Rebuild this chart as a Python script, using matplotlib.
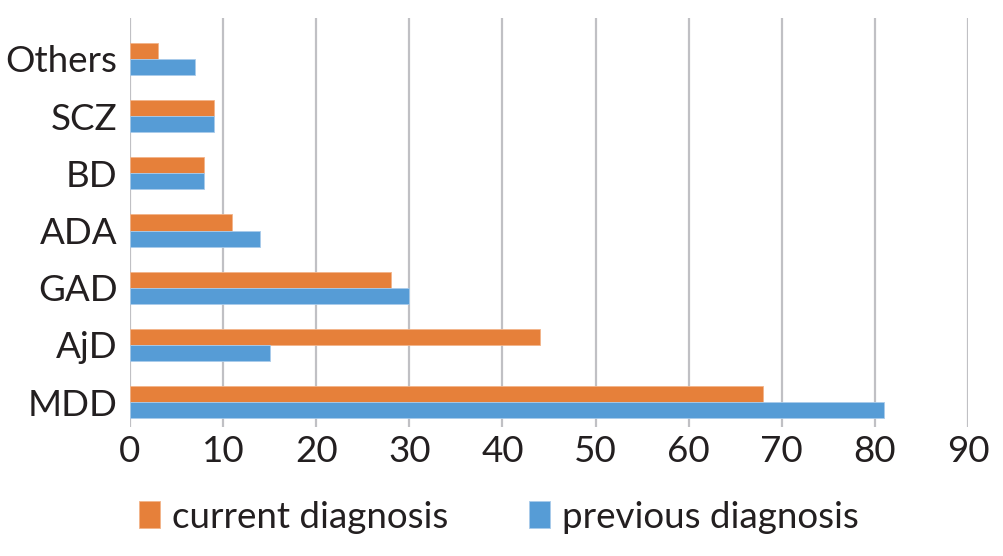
import matplotlib
matplotlib.use("Agg")
import matplotlib.pyplot as plt
import numpy as np

categories = ["MDD", "AjD", "GAD", "ADA", "BD", "SCZ", "Others"]
current = [68, 44, 28, 11, 8, 9, 3]
previous = [81, 15, 30, 14, 8, 9, 7]
xticks = [0, 10, 20, 30, 40, 50, 60, 70, 80, 90]

plt.rcParams['font.family'] = ['Lato', 'DejaVu Sans']

fig = plt.figure(figsize=(10.04, 5.56), dpi=100)
ax = fig.add_axes([130/1004, 1-427/556, 838/1004, 409/556])

y = np.arange(len(categories))
h = 0.28
orange = "#E6803A"
blue = "#569CD6"
ax.barh(y + h/2, current, height=h, color=orange, edgecolor="#F2B48A", linewidth=0.6,
        label="current diagnosis", zorder=3)
ax.barh(y - h/2, previous, height=h, color=blue, edgecolor="#A9CBEA", linewidth=0.6,
        label="previous diagnosis", zorder=3)

ax.set_xlim(0, 90)
ax.set_ylim(-0.437, 6.717)
ax.set_xticks(xticks)
ax.set_xticklabels([str(v) for v in xticks])
ax.set_yticks(y)
ax.set_yticklabels(categories)
ax.tick_params(axis='both', length=0, labelsize=26.5, colors="#231F20")
ax.tick_params(axis='y', pad=9)
ax.tick_params(axis='x', pad=6)
ax.grid(axis='x', color="#C0C0C4", linewidth=1.6, zorder=0)
ax.grid(axis='y', visible=False)
for s in ["top", "right", "bottom", "left"]:
    ax.spines[s].set_visible(False)
ax.set_axisbelow(True)

leg = fig.legend(loc="center", bbox_to_anchor=(499/1004, 1-517/556), ncol=2, frameon=False,
                 fontsize=26.5, handlelength=0.57, handleheight=0.75, handletextpad=0.33,
                 columnspacing=2.2, labelcolor="#231F20")

fig.savefig("out.png", dpi=100)
